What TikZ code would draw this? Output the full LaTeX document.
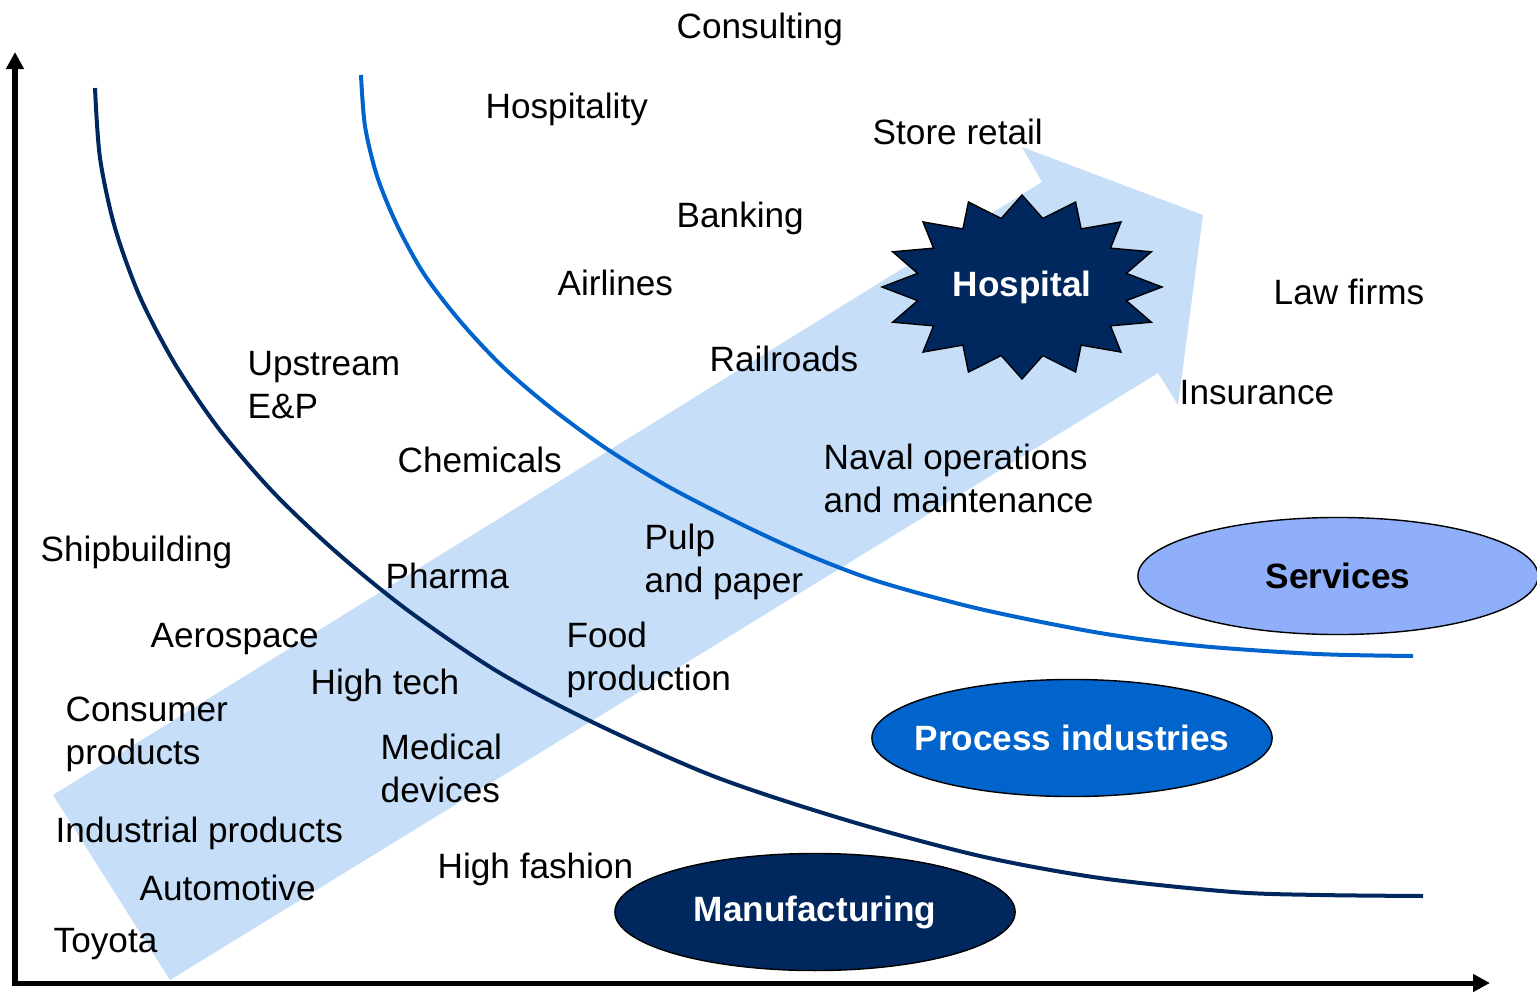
\documentclass[tikz,border=0pt]{standalone}
\usepackage{fontspec}
\setmainfont{Liberation Sans}
\usetikzlibrary{shapes.geometric}
\usetikzlibrary{arrows.meta}

\definecolor{navy}{RGB}{0,40,94}
\definecolor{midblue}{RGB}{0,100,204}
\definecolor{paleblue}{RGB}{198,222,248}
\definecolor{lilac}{RGB}{143,175,250}

\tikzset{
  lbl/.style={anchor=base west, inner sep=0pt, align=left, font=\fontsize{10}{12.2}\selectfont},
  boldtext/.style={inner sep=0pt, font=\fontsize{10}{12}\selectfont\bfseries},
  sector/.style={ellipse, draw=black, line width=0.4pt, minimum width=4cm, minimum height=1.17cm, inner sep=0pt},
  axis/.style={line width=0.05cm, {Triangle[length=0.17cm,width=0.17cm]}-{Triangle[length=0.17cm,width=0.17cm]}},
  curve/.style={line width=0.04cm}
}

\begin{document}
\begin{tikzpicture}[x=0.01cm, y=-0.01cm]
\useasboundingbox (0,0) rectangle (1537,991);
\fill[paleblue] (53,795) -- (1042,182) -- (1022,147) -- (1203,215) -- (1178,405) -- (1158,373) -- (170,980) -- cycle;
\draw[curve, navy] plot[smooth] coordinates {(95,88) (100,158) (115,228) (140,297) (175,364) (219,429) (273,492) (335,551) (406,609) (495,670) (588,720) (713,776) (846,820) (980,856) (1100,878) (1233,892) (1320,895) (1423,896)};
\draw[curve, midblue] plot[smooth] coordinates {(361,75) (365,126) (377,176) (397,225) (424,274) (460,321) (502,366) (551,408) (607,449) (669,487) (747,527) (813,557) (880,582) (980,609) (1100,633) (1200,646) (1317,654) (1413,656)};
\coordinate (hosp) at (1022,287);
\draw[fill=navy, line width=0.4pt, shift={(hosp)}] (140,0) \foreach \k [evaluate=\k as \r using {mod(\k,2)==0 ? 1 : 0.76}] in {1,...,31} {-- ({140*\r*cos(\k*11.25)},{92*\r*sin(\k*11.25)})} -- cycle;
\node[boldtext, text=white] (hospital) at (hosp) {Hospital};
\node[sector, fill=lilac] (services) at (1338,576) {};
\node[boldtext] (servicestext) at (services) {Services};
\node[sector, fill=midblue] (process) at (1072,738) {};
\node[boldtext, text=white] (processtext) at (process) {Process industries};
\node[sector, fill=navy] (manufacturing) at (815,912) {};
\node[boldtext, text=white] (manufacturingtext) at (manufacturing) {Manufacturing};
\coordinate (ytop) at (15,52);
\coordinate (origin) at (15,983);
\coordinate (xend) at (1490,983);
\draw[axis] (ytop) -- (origin) -- (xend);
\node[lbl] (consulting) at (676,39) {Consulting};
\node[lbl] (hospitality) at (485,119) {Hospitality};
\node[lbl] (storeretail) at (872,145) {Store retail};
\node[lbl] (banking) at (676,227) {Banking};
\node[lbl] (airlines) at (557,295) {Airlines};
\node[lbl] (lawfirms) at (1273,304) {Law firms};
\node[lbl] (railroads) at (709,371) {Railroads};
\node[lbl] (upstream) at (247,418) {Upstream\\E\&P};
\node[lbl] (insurance) at (1179,404) {Insurance};
\node[lbl] (chemicals) at (397,472) {Chemicals};
\node[lbl] (naval) at (823,512) {Naval operations\\and maintenance};
\node[lbl] (pulp) at (644,592) {Pulp\\and paper};
\node[lbl] (shipbuilding) at (40,561) {Shipbuilding};
\node[lbl] (pharma) at (385,588) {Pharma};
\node[lbl] (aerospace) at (150,647) {Aerospace};
\node[lbl] (food) at (566,690) {Food\\production};
\node[lbl] (hightech) at (310,694) {High tech};
\node[lbl] (consumer) at (65,764) {Consumer\\products};
\node[lbl] (medical) at (380,802) {Medical\\devices};
\node[lbl] (industrial) at (55,842) {Industrial products};
\node[lbl] (highfashion) at (437,878) {High fashion};
\node[lbl] (automotive) at (139,900) {Automotive};
\node[lbl] (toyota) at (53,952) {Toyota};
\end{tikzpicture}
\end{document}
